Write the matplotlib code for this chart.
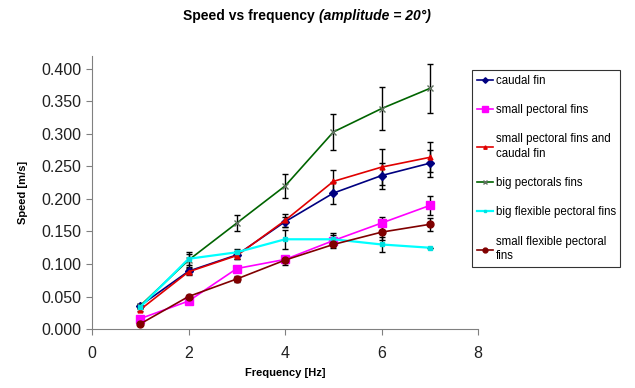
import matplotlib
matplotlib.use("Agg")
import matplotlib.pyplot as plt

plt.rcParams['font.family'] = ['Liberation Sans', 'DejaVu Sans']

freq = [1, 2, 3, 4, 5, 6, 7]

caudal = [0.036, 0.089, 0.114, 0.165, 0.209, 0.236, 0.255]
caudal_err = [0.003, 0.005, 0.006, 0.008, 0.017, 0.020, 0.021]

small_pect = [0.016, 0.043, 0.093, 0.107, 0.136, 0.163, 0.190]
small_pect_err = [0.002, 0.003, 0.004, 0.005, 0.008, 0.010, 0.015]

small_pect_caudal = [0.030, 0.088, 0.113, 0.167, 0.227, 0.249, 0.264]
small_pect_caudal_err = [0.003, 0.005, 0.006, 0.010, 0.018, 0.028, 0.023]

big_pect = [0.036, 0.106, 0.163, 0.220, 0.303, 0.339, 0.370]
big_pect_err = [0.003, 0.010, 0.013, 0.018, 0.028, 0.033, 0.038]

big_flex = [0.034, 0.108, 0.118, 0.138, 0.138, 0.130, 0.125]
big_flex_err = [0.002, 0.010, 0.005, 0.015, 0.010, 0.012, 0.000]

small_flex = [0.008, 0.050, 0.077, 0.106, 0.130, 0.149, 0.161]
small_flex_err = [0.001, 0.003, 0.004, 0.007, 0.006, 0.012, 0.010]

series = [
    ("caudal fin", caudal, caudal_err, "#000080", "D", 4, "#000080"),
    ("small pectoral fins", small_pect, small_pect_err, "#FF00FF", "s", 6, "#FF00FF"),
    ("small pectoral fins and\ncaudal fin", small_pect_caudal, small_pect_caudal_err, "#E00000", "^", 3.5, "#E00000"),
    ("big pectorals fins", big_pect, big_pect_err, "#006400", "x", 5, "#607060"),
    ("big flexible pectoral fins", big_flex, big_flex_err, "#00FFFF", "s", 2.5, "#00E0E0"),
    ("small flexible pectoral\nfins", small_flex, small_flex_err, "#800000", "o", 5, "#800000"),
]

fig = plt.figure(figsize=(6.35, 3.88), dpi=100)
ax = fig.add_axes([0.145, 0.152, 0.608, 0.704])

handles = []
for label, vals, err, color, marker, ms, mcol in series:
    ax.errorbar(freq, vals, yerr=err, fmt='none', ecolor='black', elinewidth=1,
                capsize=2.5, capthick=1, zorder=2)
    lw = 1.6 if color == "#00FFFF" else 1.2
    h, = ax.plot(freq, vals, color=color, marker=marker, ms=ms, lw=lw,
                 mfc=mcol, mec=mcol, zorder=3, label=label)
    handles.append(h)

ax.set_xlim(0, 8)
ax.set_ylim(0, 0.42)
ax.set_xticks([0, 2, 4, 6, 8])
ax.set_yticks([i * 0.05 for i in range(9)])
ax.yaxis.set_major_formatter(matplotlib.ticker.FormatStrFormatter('%.3f'))
for s in ['top', 'right']:
    ax.spines[s].set_visible(False)
for s in ['left', 'bottom']:
    ax.spines[s].set_color('#808080')
ax.tick_params(axis='both', color='#808080', length=4, labelsize=11.5,
               labelcolor='#202020')
ax.tick_params(axis='x', pad=8)

ax.set_xlabel('Frequency [Hz]', fontsize=8, fontweight='bold', labelpad=5)
ax.set_ylabel('Speed [m/s]', fontsize=8, fontweight='bold', labelpad=10)

fig.text(0.496, 0.958, 'Speed vs frequency', fontsize=10, fontweight='bold',
         ha='right', va='center')
fig.text(0.503, 0.958, '(amplitude = 20°)', fontsize=10, fontweight='bold',
         style='italic', ha='left', va='center')

leg = fig.legend(handles=handles, loc='upper left',
                 bbox_to_anchor=(472 / 635, 1 - 70 / 388), fontsize=8.3,
                 frameon=True, fancybox=False, edgecolor='black',
                 labelspacing=1.5, handlelength=1.4, handletextpad=0.25,
                 borderpad=0.4, borderaxespad=0, markerscale=0.7)
leg.get_frame().set_linewidth(0.8)
for t in leg.get_texts():
    t.set_linespacing(1.3)

fig.savefig('out.png', dpi=100)
